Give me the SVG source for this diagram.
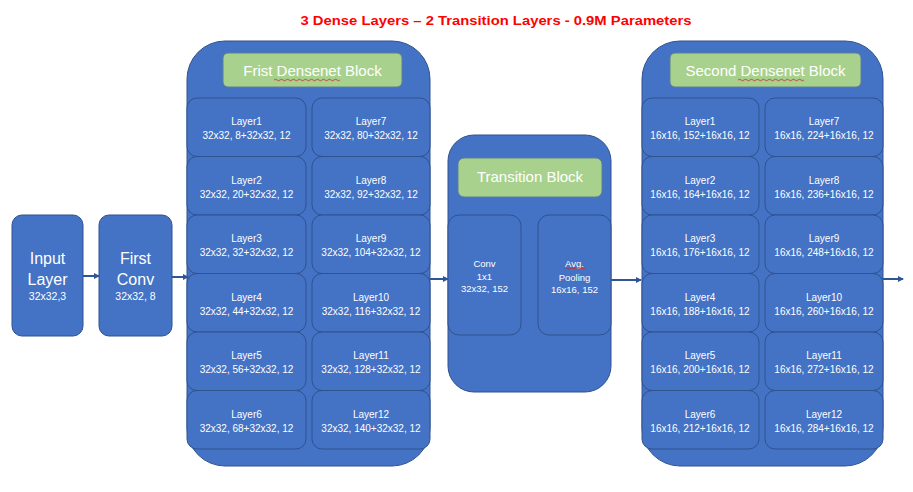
<svg xmlns="http://www.w3.org/2000/svg" width="913" height="492" viewBox="0 0 913 492">
<defs>
<style>
.blk{fill:#4472C4;stroke:#2F528F;stroke-width:1}
.hdr{fill:#A9D18E;stroke:#5E7E93;stroke-width:1}
.t{font-family:"Liberation Sans",Arial,sans-serif;fill:#FFFFFF;text-anchor:middle}
.s{font-size:10px}
.h{font-size:15px}
.b{font-size:16px}
.sq{fill:none;stroke:#E02020;stroke-width:0.8}
.c{stroke:#2F5597;stroke-width:2;fill:none;marker-end:url(#ah)}
</style>
<marker id="ah" viewBox="0 0 6 6" refX="5" refY="3" markerWidth="3" markerHeight="3" orient="auto" markerUnits="strokeWidth">
<path d="M0,0 L6,3 L0,6 Z" fill="#2F5597"/>
</marker>
</defs>
<rect width="913" height="492" fill="#FFFFFF"/>
<text x="496" y="25" font-family="Liberation Sans,Arial,sans-serif" font-weight="bold" font-size="13.5" fill="#FF0000" text-anchor="middle" textLength="391" lengthAdjust="spacingAndGlyphs">3 Dense Layers – 2 Transition Layers - 0.9M Parameters</text>

<g id="input-layer">
<rect class="blk" x="12" y="215" width="71" height="121" rx="10"/>
<text class="t b" x="47.5" y="264">Input</text>
<text class="t b" x="47.5" y="285">Layer</text>
<text class="t" x="47.5" y="300" font-size="10.5">32x32,3</text>
</g>

<g id="first-conv">
<rect class="blk" x="99" y="215" width="73" height="121" rx="10"/>
<text class="t b" x="135.5" y="264">First</text>
<text class="t b" x="135.5" y="285">Conv</text>
<text class="t" x="135.5" y="300" font-size="10.5">32x32, 8</text>
</g>

<g id="first-densenet-block">
<rect class="blk" x="187" y="41" width="243" height="425" rx="38"/>
<rect class="hdr" x="223" y="53" width="179" height="34" rx="5"/>
<text class="t h" x="312.5" y="75.5">Frist Densenet Block</text>
<path class="sq" d="M274,80 q1.5,-1.5 3,0 t3,0 t3,0 t3,0 t3,0 t3,0 t3,0 t3,0 t3,0 t3,0 t3,0 t3,0 t3,0 t3,0 t3,0 t3,0 t3,0 t3,0 t3,0 t3,0 t3,0 t3,0"/>
<g id="d1-layer1"><rect class="blk" x="187" y="98" width="119" height="58.5" rx="10"/><text class="t s" x="246.5" y="125">Layer1</text><text class="t s" x="246.5" y="139">32x32, 8+32x32, 12</text></g>
<g id="d1-layer2"><rect class="blk" x="187" y="156.5" width="119" height="58.5" rx="10"/><text class="t s" x="246.5" y="183.5">Layer2</text><text class="t s" x="246.5" y="197.5">32x32, 20+32x32, 12</text></g>
<g id="d1-layer3"><rect class="blk" x="187" y="215" width="119" height="58.5" rx="10"/><text class="t s" x="246.5" y="242">Layer3</text><text class="t s" x="246.5" y="256">32x32, 32+32x32, 12</text></g>
<g id="d1-layer4"><rect class="blk" x="187" y="273.5" width="119" height="58.5" rx="10"/><text class="t s" x="246.5" y="300.5">Layer4</text><text class="t s" x="246.5" y="314.5">32x32, 44+32x32, 12</text></g>
<g id="d1-layer5"><rect class="blk" x="187" y="332" width="119" height="58.5" rx="10"/><text class="t s" x="246.5" y="359">Layer5</text><text class="t s" x="246.5" y="373">32x32, 56+32x32, 12</text></g>
<g id="d1-layer6"><rect class="blk" x="187" y="390.5" width="119" height="58.5" rx="10"/><text class="t s" x="246.5" y="417.5">Layer6</text><text class="t s" x="246.5" y="431.5">32x32, 68+32x32, 12</text></g>
<g id="d1-layer7"><rect class="blk" x="312" y="98" width="118" height="58.5" rx="10"/><text class="t s" x="371" y="125">Layer7</text><text class="t s" x="371" y="139">32x32, 80+32x32, 12</text></g>
<g id="d1-layer8"><rect class="blk" x="312" y="156.5" width="118" height="58.5" rx="10"/><text class="t s" x="371" y="183.5">Layer8</text><text class="t s" x="371" y="197.5">32x32, 92+32x32, 12</text></g>
<g id="d1-layer9"><rect class="blk" x="312" y="215" width="118" height="58.5" rx="10"/><text class="t s" x="371" y="242">Layer9</text><text class="t s" x="371" y="256">32x32, 104+32x32, 12</text></g>
<g id="d1-layer10"><rect class="blk" x="312" y="273.5" width="118" height="58.5" rx="10"/><text class="t s" x="371" y="300.5">Layer10</text><text class="t s" x="371" y="314.5">32x32, 116+32x32, 12</text></g>
<g id="d1-layer11"><rect class="blk" x="312" y="332" width="118" height="58.5" rx="10"/><text class="t s" x="371" y="359">Layer11</text><text class="t s" x="371" y="373">32x32, 128+32x32, 12</text></g>
<g id="d1-layer12"><rect class="blk" x="312" y="390.5" width="118" height="58.5" rx="10"/><text class="t s" x="371" y="417.5">Layer12</text><text class="t s" x="371" y="431.5">32x32, 140+32x32, 12</text></g>
</g>

<g id="transition-block">
<rect class="blk" x="448" y="135" width="163" height="257" rx="26"/>
<rect class="hdr" x="458" y="158" width="144" height="39" rx="6"/>
<text class="t h" x="530" y="182">Transition Block</text>
<g id="t-conv"><rect class="blk" x="448" y="215" width="73" height="120" rx="11"/><text class="t" font-size="9.5" x="484.5" y="266.5">Conv</text><text class="t" font-size="9.5" x="484.5" y="279.5">1x1</text><text class="t" font-size="9.5" x="484.5" y="291.5">32x32, 152</text></g>
<g id="t-pool"><rect class="blk" x="538" y="215" width="73" height="120" rx="11"/><text class="t" font-size="9.5" x="574.5" y="266.5">Avg.</text><text class="t" font-size="9.5" x="574.5" y="280.5">Pooling</text><text class="t" font-size="9.5" x="574.5" y="292.5">16x16, 152</text>
<path class="sq" d="M565,268.5 q1.25,-1.2 2.5,0 t2.5,0 t2.5,0 t2.5,0 t2.5,0 t2.5,0 t2.5,0 t2.5,0"/></g>
</g>

<g id="second-densenet-block">
<rect class="blk" x="642" y="41" width="241" height="425" rx="38"/>
<rect class="hdr" x="670" y="53" width="191" height="34" rx="5"/>
<text class="t h" x="765.5" y="75.5">Second Densenet Block</text>
<path class="sq" d="M738,80 q1.5,-1.5 3,0 t3,0 t3,0 t3,0 t3,0 t3,0 t3,0 t3,0 t3,0 t3,0 t3,0 t3,0 t3,0 t3,0 t3,0 t3,0 t3,0 t3,0 t3,0 t3,0 t3,0 t3,0"/>
<g id="d2-layer1"><rect class="blk" x="642" y="98" width="117" height="58.5" rx="10"/><text class="t s" x="700" y="125">Layer1</text><text class="t s" x="700" y="139">16x16, 152+16x16, 12</text></g>
<g id="d2-layer2"><rect class="blk" x="642" y="156.5" width="117" height="58.5" rx="10"/><text class="t s" x="700" y="183.5">Layer2</text><text class="t s" x="700" y="197.5">16x16, 164+16x16, 12</text></g>
<g id="d2-layer3"><rect class="blk" x="642" y="215" width="117" height="58.5" rx="10"/><text class="t s" x="700" y="242">Layer3</text><text class="t s" x="700" y="256">16x16, 176+16x16, 12</text></g>
<g id="d2-layer4"><rect class="blk" x="642" y="273.5" width="117" height="58.5" rx="10"/><text class="t s" x="700" y="300.5">Layer4</text><text class="t s" x="700" y="314.5">16x16, 188+16x16, 12</text></g>
<g id="d2-layer5"><rect class="blk" x="642" y="332" width="117" height="58.5" rx="10"/><text class="t s" x="700" y="359">Layer5</text><text class="t s" x="700" y="373">16x16, 200+16x16, 12</text></g>
<g id="d2-layer6"><rect class="blk" x="642" y="390.5" width="117" height="58.5" rx="10"/><text class="t s" x="700" y="417.5">Layer6</text><text class="t s" x="700" y="431.5">16x16, 212+16x16, 12</text></g>
<g id="d2-layer7"><rect class="blk" x="765" y="98" width="118" height="58.5" rx="10"/><text class="t s" x="824" y="125">Layer7</text><text class="t s" x="824" y="139">16x16, 224+16x16, 12</text></g>
<g id="d2-layer8"><rect class="blk" x="765" y="156.5" width="118" height="58.5" rx="10"/><text class="t s" x="824" y="183.5">Layer8</text><text class="t s" x="824" y="197.5">16x16, 236+16x16, 12</text></g>
<g id="d2-layer9"><rect class="blk" x="765" y="215" width="118" height="58.5" rx="10"/><text class="t s" x="824" y="242">Layer9</text><text class="t s" x="824" y="256">16x16, 248+16x16, 12</text></g>
<g id="d2-layer10"><rect class="blk" x="765" y="273.5" width="118" height="58.5" rx="10"/><text class="t s" x="824" y="300.5">Layer10</text><text class="t s" x="824" y="314.5">16x16, 260+16x16, 12</text></g>
<g id="d2-layer11"><rect class="blk" x="765" y="332" width="118" height="58.5" rx="10"/><text class="t s" x="824" y="359">Layer11</text><text class="t s" x="824" y="373">16x16, 272+16x16, 12</text></g>
<g id="d2-layer12"><rect class="blk" x="765" y="390.5" width="118" height="58.5" rx="10"/><text class="t s" x="824" y="417.5">Layer12</text><text class="t s" x="824" y="431.5">16x16, 284+16x16, 12</text></g>
</g>

<g id="connectors">
<line class="c" x1="83" y1="276" x2="99" y2="276"/>
<line class="c" x1="172" y1="277" x2="188" y2="277"/>
<line class="c" x1="430" y1="279" x2="448" y2="279"/>
<line class="c" x1="611" y1="280" x2="641" y2="280"/>
<line class="c" x1="883" y1="279" x2="903" y2="279"/>
</g>
</svg>
